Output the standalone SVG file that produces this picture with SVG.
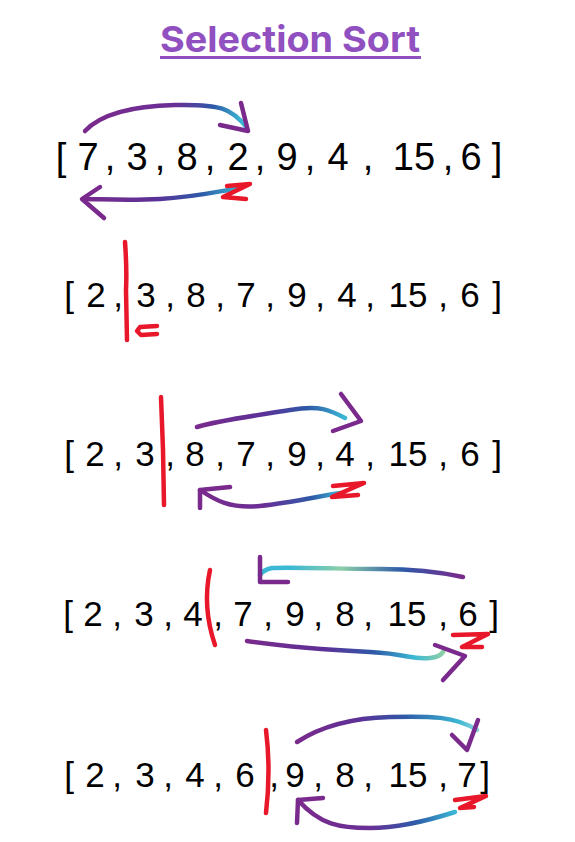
<svg xmlns="http://www.w3.org/2000/svg" width="575" height="842" viewBox="0 0 575 842">
<defs>
<style>
.t{font-family:"Liberation Sans",Arial,sans-serif;fill:#000;text-anchor:middle}
.r1{font-size:38px}
.r{font-size:35px}
.arr{fill:none;stroke-width:4.5;stroke-linecap:round;stroke-linejoin:round}
.head{fill:none;stroke:#7a2a8c;stroke-width:4.5;stroke-linecap:round;stroke-linejoin:round}
.red{fill:none;stroke:#e8172a;stroke-width:4.5;stroke-linecap:round;stroke-linejoin:round}
</style>
<linearGradient id="g1t" gradientUnits="userSpaceOnUse" x1="85" y1="0" x2="250" y2="0">
<stop offset="0" stop-color="#7a2a8c"/><stop offset="0.55" stop-color="#6a2f95"/><stop offset="0.78" stop-color="#2e5aa8"/><stop offset="0.95" stop-color="#3bb8d4"/></linearGradient>
<linearGradient id="g1b" gradientUnits="userSpaceOnUse" x1="240" y1="0" x2="85" y2="0">
<stop offset="0" stop-color="#3bb8d4"/><stop offset="0.25" stop-color="#2e5aa8"/><stop offset="0.55" stop-color="#5c3197"/><stop offset="1" stop-color="#7a2a8c"/></linearGradient>
<linearGradient id="g3t" gradientUnits="userSpaceOnUse" x1="197" y1="0" x2="345" y2="0">
<stop offset="0" stop-color="#7a2a8c"/><stop offset="0.45" stop-color="#5c3197"/><stop offset="0.75" stop-color="#2e5aa8"/><stop offset="1" stop-color="#3bb8d4"/></linearGradient>
<linearGradient id="g3b" gradientUnits="userSpaceOnUse" x1="340" y1="0" x2="200" y2="0">
<stop offset="0" stop-color="#3bb8d4"/><stop offset="0.2" stop-color="#2e5aa8"/><stop offset="0.55" stop-color="#6a2f95"/><stop offset="1" stop-color="#7a2a8c"/></linearGradient>
<linearGradient id="g4t" gradientUnits="userSpaceOnUse" x1="463" y1="0" x2="260" y2="0">
<stop offset="0" stop-color="#7a2a8c"/><stop offset="0.3" stop-color="#2e5aa8"/><stop offset="0.6" stop-color="#8ccfa8"/><stop offset="0.85" stop-color="#3bb8d4"/><stop offset="1" stop-color="#3bb8d4"/></linearGradient>
<linearGradient id="g4b" gradientUnits="userSpaceOnUse" x1="247" y1="0" x2="443" y2="0">
<stop offset="0" stop-color="#7a2a8c"/><stop offset="0.4" stop-color="#5c3197"/><stop offset="0.65" stop-color="#2e5aa8"/><stop offset="0.85" stop-color="#3bb8d4"/><stop offset="1" stop-color="#8ccfa8"/></linearGradient>
<linearGradient id="g5t" gradientUnits="userSpaceOnUse" x1="297" y1="0" x2="477" y2="0">
<stop offset="0" stop-color="#7a2a8c"/><stop offset="0.35" stop-color="#5c3197"/><stop offset="0.6" stop-color="#2e5aa8"/><stop offset="0.9" stop-color="#3bb8d4"/><stop offset="1" stop-color="#8fd3d8"/></linearGradient>
<linearGradient id="g5b" gradientUnits="userSpaceOnUse" x1="455" y1="0" x2="298" y2="0">
<stop offset="0" stop-color="#3bb8d4"/><stop offset="0.25" stop-color="#2e5aa8"/><stop offset="0.55" stop-color="#6a2f95"/><stop offset="1" stop-color="#7a2a8c"/></linearGradient>
</defs>
<rect width="575" height="842" fill="#fff"/>
<g id="title">
<text x="290" y="52" font-family="Inter, 'Liberation Sans', sans-serif" font-weight="700" font-size="36" fill="#9150c0" text-anchor="middle" textLength="260" lengthAdjust="spacingAndGlyphs">Selection Sort</text>
<rect x="160" y="56" width="261" height="3" fill="#9150c0"/>
</g>
<g id="row1">
<text class="t r1" y="170"><tspan x="61">[</tspan><tspan x="88">7</tspan><tspan x="110">,</tspan><tspan x="137">3</tspan><tspan x="160">,</tspan><tspan x="187">8</tspan><tspan x="210">,</tspan><tspan x="238">2</tspan><tspan x="260">,</tspan><tspan x="287">9</tspan><tspan x="310">,</tspan><tspan x="338">4</tspan><tspan x="368">,</tspan><tspan x="414">15</tspan><tspan x="448">,</tspan><tspan x="471">6</tspan><tspan x="497">]</tspan></text>
</g>
<g id="row2">
<text class="t r" y="307"><tspan x="69">[</tspan><tspan x="96">2</tspan><tspan x="118">,</tspan><tspan x="146">3</tspan><tspan x="170">,</tspan><tspan x="196">8</tspan><tspan x="220">,</tspan><tspan x="246">7</tspan><tspan x="270">,</tspan><tspan x="297">9</tspan><tspan x="320">,</tspan><tspan x="347">4</tspan><tspan x="370">,</tspan><tspan x="408">15</tspan><tspan x="443">,</tspan><tspan x="470">6</tspan><tspan x="497">]</tspan></text>
</g>
<g id="row3">
<text class="t r" y="466"><tspan x="69">[</tspan><tspan x="95">2</tspan><tspan x="118">,</tspan><tspan x="145">3</tspan><tspan x="170">,</tspan><tspan x="195">8</tspan><tspan x="220">,</tspan><tspan x="246">7</tspan><tspan x="270">,</tspan><tspan x="297">9</tspan><tspan x="320">,</tspan><tspan x="345">4</tspan><tspan x="370">,</tspan><tspan x="408">15</tspan><tspan x="443">,</tspan><tspan x="470">6</tspan><tspan x="497">]</tspan></text>
</g>
<g id="row4">
<text class="t r" y="626"><tspan x="68">[</tspan><tspan x="93">2</tspan><tspan x="117">,</tspan><tspan x="144">3</tspan><tspan x="168">,</tspan><tspan x="193">4</tspan><tspan x="218">,</tspan><tspan x="243">7</tspan><tspan x="268">,</tspan><tspan x="295">9</tspan><tspan x="318">,</tspan><tspan x="345">8</tspan><tspan x="368">,</tspan><tspan x="407">15</tspan><tspan x="443">,</tspan><tspan x="468">6</tspan><tspan x="494">]</tspan></text>
</g>
<g id="row5">
<text class="t r" y="787"><tspan x="69">[</tspan><tspan x="95">2</tspan><tspan x="117">,</tspan><tspan x="145">3</tspan><tspan x="168">,</tspan><tspan x="195">4</tspan><tspan x="218">,</tspan><tspan x="245">6</tspan><tspan x="274">,</tspan><tspan x="295">9</tspan><tspan x="318">,</tspan><tspan x="345">8</tspan><tspan x="368">,</tspan><tspan x="408">15</tspan><tspan x="443">,</tspan><tspan x="467">7</tspan><tspan x="485">]</tspan></text>
</g>
<g id="connectors">
<path class="arr" stroke="url(#g1t)" d="M85,131 C100,115 130,106 175,105 S232,108 247,128"/>
<path class="head" d="M220,125 L248,131 L241,103"/>
<path class="arr" stroke="url(#g1b)" d="M240,188 C215,192 195,197 160,199 S100,199 83,199"/>
<path class="head" d="M100,187 L82,199 L104,218"/>
<path class="red" d="M227,186 L250,184 L223,197 L246,199"/>
<path class="red" d="M125,242 Q127,270 126,290 L127,340"/>
<path class="red" stroke-width="5.5" d="M157,326 L140,327 L137,331 L141,335 L157,334"/>
<path class="red" d="M161,397 L163,450 L164,505"/>
<path class="arr" stroke="url(#g3t)" d="M197,427 C220,420 260,415 290,410 S330,410 345,418"/>
<path class="head" d="M341,394 L361,421 L333,431"/>
<path class="arr" stroke="url(#g3b)" d="M340,493 C315,497 290,503 260,506 S215,500 200,490"/>
<path class="head" d="M200,508 L200,490 L230,487"/>
<path class="red" d="M333,486 L364,483 L332,497 L358,495"/>
<path class="red" d="M210,570 Q202,607 215,645"/>
<path class="arr" stroke="url(#g4t)" d="M463,577 C440,572 410,569 380,569 S290,567 272,568 Q263,570 260,575"/>
<path class="head" d="M260,557 L260,582 L288,582"/>
<path class="arr" stroke="url(#g4b)" d="M247,641 C280,646 330,650 370,652 S410,660 430,658 Q440,657 443,652"/>
<path class="head" d="M435,645 L465,656 L443,680"/>
<path class="red" d="M453,635 L488,634 L462,647 L482,647"/>
<path class="red" d="M266,730 Q271,770 266,813"/>
<path class="arr" stroke="url(#g5t)" d="M297,742 C320,727 350,718 390,717 S455,716 477,730"/>
<path class="head" d="M452,735 L467,750 L478,720"/>
<path class="arr" stroke="url(#g5b)" d="M455,812 C430,820 400,828 370,828 S320,825 298,800"/>
<path class="head" d="M297,823 L298,800 L323,798"/>
<path class="red" d="M455,800 L486,796 L460,808 L474,807"/>
</g>
</svg>
